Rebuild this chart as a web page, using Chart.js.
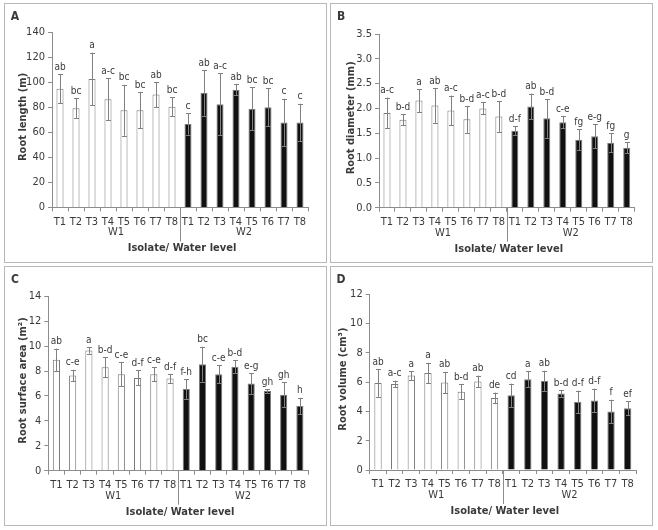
<!DOCTYPE html>
<html>
<head>
<meta charset="utf-8">
<script src="https://cdn.jsdelivr.net/npm/chart.js@4"></script>
<style>
    body { margin: 0; background: #fff; }
    #fig { position: relative; width: 658px; height: 530px; }
    #fig canvas { position: absolute; }
</style>
</head>
<body>
<div id="fig">
    <canvas id="chartA" width="323" height="260" style="left:4px;top:3px"></canvas>
    <canvas id="chartB" width="323" height="260" style="left:330px;top:3px"></canvas>
    <canvas id="chartC" width="323" height="260" style="left:4px;top:266px"></canvas>
    <canvas id="chartD" width="323" height="260" style="left:330px;top:266px"></canvas>
</div>
<script>
// categories
const treatments = ['T1', 'T2', 'T3', 'T4', 'T5', 'T6', 'T7', 'T8'];
const waterLevels = ['W1', 'W2'];

// A: root length (m), W1 T1..T8 then W2 T1..T8
const lengthMean = [94.8, 79.3, 102.7, 86.5, 77.7, 77.7, 90.2, 80.6, 66.8, 91.6, 82.5, 94.0, 79.0, 80.1, 67.9, 67.9];
const lengthErr = [11.5, 8, 21, 16.8, 20.3, 14.5, 10, 7.5, 8.5, 18.2, 24.8, 4.5, 17.3, 15.2, 19, 15];
const lengthLetters = ['ab', 'bc', 'a', 'a-c', 'bc', 'bc', 'ab', 'bc', 'c', 'ab', 'a-c', 'ab', 'bc', 'bc', 'c', 'c'];

// B: root diameter (mm)
const diameterMean = [1.91, 1.77, 2.16, 2.06, 1.96, 1.78, 2.00, 1.84, 1.55, 2.04, 1.80, 1.72, 1.37, 1.44, 1.31, 1.21];
const diameterErr = [0.31, 0.11, 0.23, 0.35, 0.30, 0.27, 0.12, 0.31, 0.09, 0.26, 0.39, 0.12, 0.21, 0.24, 0.19, 0.11];
const diameterLetters = ['a-c', 'b-d', 'a', 'ab', 'a-c', 'b-d', 'a-c', 'b-d', 'd-f', 'ab', 'b-d', 'c-e', 'fg', 'e-g', 'fg', 'g'];

// C: root surface area (m2)
const areaMean = [8.9, 7.65, 9.65, 8.3, 7.75, 7.45, 7.75, 7.4, 6.55, 8.55, 7.75, 8.35, 7.0, 6.4, 6.1, 5.2];
const areaErr = [0.9, 0.45, 0.25, 0.8, 0.95, 0.6, 0.55, 0.35, 0.8, 1.4, 0.72, 0.5, 0.83, 0.15, 1.0, 0.65];
const areaLetters = ['ab', 'c-e', 'a', 'b-d', 'c-e', 'd-f', 'c-e', 'd-f', 'f-h', 'bc', 'c-e', 'b-d', 'e-g', 'gh', 'gh', 'h'];

// D: root volume (cm3)
const volumeMean = [5.95, 5.88, 6.45, 6.62, 5.98, 5.35, 6.05, 4.92, 5.1, 6.2, 6.08, 5.22, 4.65, 4.75, 4.0, 4.22];
const volumeErr = [0.95, 0.22, 0.3, 0.7, 0.72, 0.5, 0.4, 0.37, 0.8, 0.55, 0.7, 0.25, 0.77, 0.8, 0.8, 0.48];
const volumeLetters = ['ab', 'a-c', 'a', 'a', 'ab', 'b-d', 'ab', 'de', 'cd', 'a', 'ab', 'b-d', 'd-f', 'd-f', 'f', 'ef'];

const FONT = "'Liberation Sans Narrow', 'DejaVu Sans Condensed', 'Liberation Sans', sans-serif";
const AXIS = '#8c8c8c';
const TEXT = '#3a3a3a';

// error bars, letters, group labels, titles, frame
const decorPlugin = {
    id: 'decor',
    afterDatasetsDraw(chart, args, opts) {
        const ctx = chart.ctx;
        const area = chart.chartArea;
        const ys = chart.scales.y;
        const bars = chart.getDatasetMeta(0).data;

        ctx.save();
        // error bars
        ctx.strokeStyle = '#808080';
        ctx.lineWidth = 1;
        opts.means.forEach((m, i) => {
            const px = Math.round(bars[i].x) + 0.5;
            const top = ys.getPixelForValue(m + opts.errs[i]);
            const bot = ys.getPixelForValue(m - opts.errs[i]);
            ctx.beginPath();
            ctx.moveTo(px, top); ctx.lineTo(px, bot);
            ctx.moveTo(px - 2.5, Math.round(top) + 0.5); ctx.lineTo(px + 2.5, Math.round(top) + 0.5);
            ctx.moveTo(px - 2.5, Math.round(bot) + 0.5); ctx.lineTo(px + 2.5, Math.round(bot) + 0.5);
            ctx.stroke();
        });

        // significance letters
        ctx.fillStyle = TEXT;
        ctx.font = '10px ' + FONT;
        ctx.textAlign = 'center';
        ctx.textBaseline = 'bottom';
        opts.letters.forEach((t, i) => {
            ctx.fillText(t, bars[i].x, ys.getPixelForValue(opts.means[i] + opts.errs[i]) - 2);
        });

        // W1 / W2 separator
        const sep = Math.round((bars[7].x + bars[8].x) / 2) + 0.5;
        ctx.strokeStyle = AXIS;
        ctx.beginPath();
        ctx.moveTo(sep, area.bottom);
        ctx.lineTo(sep, area.bottom + 34);
        ctx.stroke();

        ctx.font = '11px ' + FONT;
        ctx.textBaseline = 'middle';
        waterLevels.forEach((w, g) => {
            const cx = (bars[g * 8].x + bars[g * 8 + 7].x) / 2;
            ctx.fillText(w, cx, area.bottom + 25);
        });

        ctx.font = 'bold 11px ' + FONT;
        ctx.fillText('Isolate/ Water level', (area.left + area.right) / 2 + 2, area.bottom + 41);

        // y title
        ctx.save();
        ctx.translate(opts.yTitleX, (area.top + area.bottom) / 2 - 3);
        ctx.rotate(-Math.PI / 2);
        ctx.fillText(opts.yTitle, 0, 0);
        ctx.restore();

        // panel letter
        ctx.font = 'bold 12px ' + FONT;
        ctx.fillText(opts.letter, 11, 14);

        // frame
        ctx.strokeStyle = '#b8b8b8';
        ctx.strokeRect(0.5, 0.5, chart.width - 1, chart.height - 1);
        ctx.restore();
    }
};

function makeChart(id, cfg) {
    const labels = treatments.concat(treatments);
    const fills = labels.map((l, i) => i < 8 ? '#ffffff' : '#111111');
    return new Chart(document.getElementById(id), {
        type: 'bar',
        data: {
            labels: labels,
            datasets: [{
                data: cfg.means,
                backgroundColor: fills,
                borderColor: '#7a7a7a',
                borderWidth: 1,
                barPercentage: 0.44,
                categoryPercentage: 1
            }]
        },
        options: {
            responsive: false,
            animation: false,
            events: [],
            layout: { padding: { left: 0, top: cfg.top, right: cfg.right, bottom: 0 } },
            plugins: {
                legend: { display: false },
                tooltip: { enabled: false },
                decor: cfg
            },
            scales: {
                x: {
                    offset: true,
                    grid: { display: true, offset: true, drawOnChartArea: false, tickLength: 4, color: AXIS },
                    border: { color: AXIS },
                    ticks: { color: TEXT, font: { family: FONT, size: 11 }, padding: 4, maxRotation: 0, autoSkip: false },
                    afterFit: s => { s.height = cfg.xHeight; }
                },
                y: {
                    min: 0,
                    max: cfg.max,
                    grid: { drawOnChartArea: false, tickLength: 4, color: AXIS },
                    border: { color: AXIS },
                    ticks: {
                        stepSize: cfg.step,
                        color: TEXT,
                        padding: 3,
                        font: { family: FONT, size: 11 },
                        callback: v => cfg.decimals ? v.toFixed(cfg.decimals) : v
                    },
                    afterFit: s => { s.width = cfg.left; }
                }
            }
        },
        plugins: [decorPlugin]
    });
}

makeChart('chartA', {
    letter: 'A', yTitle: 'Root length (m)', yTitleX: 19,
    means: lengthMean, errs: lengthErr, letters: lengthLetters,
    max: 140, step: 20, decimals: 0,
    left: 48, right: 19, top: 29.3, xHeight: 55.5
});
makeChart('chartB', {
    letter: 'B', yTitle: 'Root diameter (mm)', yTitleX: 21,
    means: diameterMean, errs: diameterErr, letters: diameterLetters,
    max: 3.5, step: 0.5, decimals: 1,
    left: 49, right: 18.3, top: 31, xHeight: 55.3
});
makeChart('chartC', {
    letter: 'C', yTitle: 'Root surface area (m²)', yTitleX: 19,
    means: areaMean, errs: areaErr, letters: areaLetters,
    max: 14, step: 2, decimals: 0,
    left: 44.3, right: 19, top: 30.3, xHeight: 55.3
});
makeChart('chartD', {
    letter: 'D', yTitle: 'Root volume (cm³)', yTitleX: 13,
    means: volumeMean, errs: volumeErr, letters: volumeLetters,
    max: 12, step: 2, decimals: 0,
    left: 39.7, right: 17, top: 28.3, xHeight: 56
});
</script>
</body>
</html>
